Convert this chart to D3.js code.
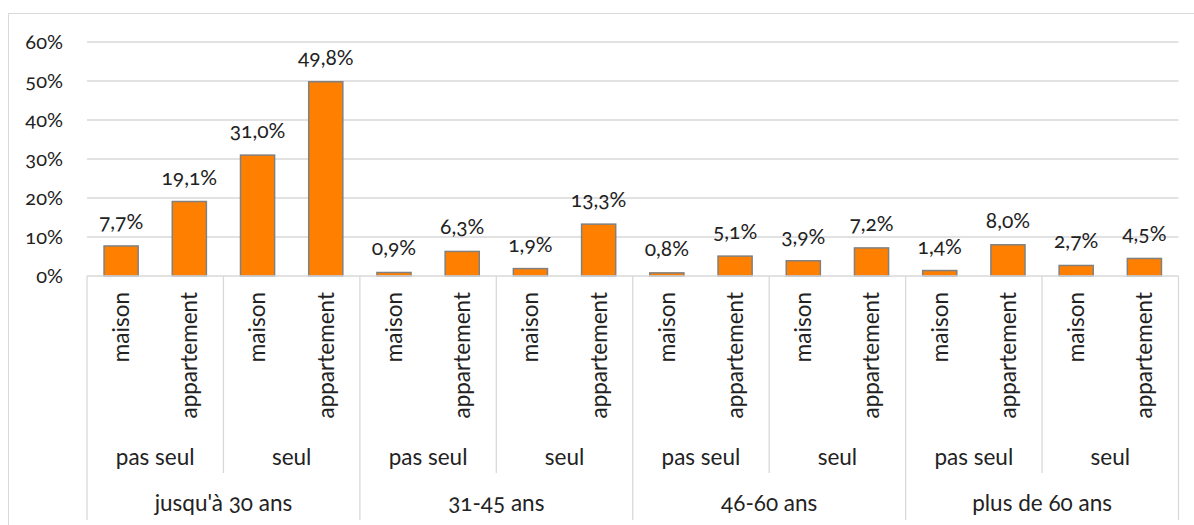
<!DOCTYPE html>
<style>
body { margin: 0; background: #fff; }
svg { font-family: "Lato", "Open Sans", sans-serif; font-variant-numeric: oldstyle-nums; }
</style>
<svg width="1194" height="525"></svg>
<script src="https://cdn.jsdelivr.net/npm/d3@7"></script>
<script>

var ageGroups = ["jusqu'à 30 ans", "31-45 ans", "46-60 ans", "plus de 60 ans"];
var livingStatus = ["pas seul", "seul"];
var housingTypes = ["maison", "appartement"];
// one value per bar, in order age > status > housing
var values = [7.7, 19.1, 31.0, 49.8,
              0.9, 6.3, 1.9, 13.3,
              0.8, 5.1, 3.9, 7.2,
              1.4, 8.0, 2.7, 4.5];
var yTicks = [0, 10, 20, 30, 40, 50, 60];

var svg = d3.select("svg");

var rows = [];
ageGroups.forEach(function(a) {
  livingStatus.forEach(function(s) {
    housingTypes.forEach(function(h) {
      var idx = rows.length;
      rows.push({ idx: idx, age: a, status: s, housing: h, value: values[idx] });
    });
  });
});

var plotLeft = 87, plotRight = 1178.5, plotTop = 42, plotBottom = 276;
var numSize = 21, wordSize = 22.5, textColor = "#222";

var x = d3.scaleBand()
    .domain(rows.map(function(d) { return d.idx; }))
    .range([plotLeft, plotRight])
    .paddingInner(0.5)
    .paddingOuter(0.25);

var y = d3.scaleLinear().domain([0, 60]).range([plotBottom, plotTop]);

var fmt = function(v) { return v.toFixed(1).replace(".", ",") + "%"; };
var step = x.step();

// chart frame
svg.append("rect")
    .attr("x", 8.5).attr("y", 13.5)
    .attr("width", 1200).attr("height", 530)
    .attr("fill", "none")
    .attr("stroke", "#d9d9d9");

// gridlines
svg.append("g")
  .selectAll("line")
  .data(yTicks.slice(1))
  .join("line")
    .attr("x1", plotLeft).attr("x2", plotRight)
    .attr("y1", function(d) { return y(d); })
    .attr("y2", function(d) { return y(d); })
    .attr("stroke", "#d9d9d9")
    .attr("stroke-width", 1.3);

// y tick labels
svg.append("g")
  .selectAll("text")
  .data(yTicks)
  .join("text")
    .attr("x", 63)
    .attr("y", function(d) { return y(d); })
    .attr("dy", "0.35em")
    .attr("text-anchor", "end")
    .attr("font-size", 20)
    .attr("fill", textColor)
    .text(function(d) { return d + "%"; });

// bars
svg.append("g")
  .selectAll("rect")
  .data(rows)
  .join("rect")
    .attr("x", function(d) { return x(d.idx); })
    .attr("y", function(d) { return y(d.value); })
    .attr("width", x.bandwidth())
    .attr("height", function(d) { return y(0) - y(d.value); })
    .attr("fill", "#ff8000")
    .attr("stroke", "#808080")
    .attr("stroke-width", 1.5);

// data labels
svg.append("g")
  .selectAll("text")
  .data(rows)
  .join("text")
    .attr("x", function(d) { return x(d.idx) + x.bandwidth() / 2; })
    .attr("y", function(d) { return y(d.value) - 17; })
    .attr("text-anchor", "middle")
    .attr("font-size", numSize)
    .attr("fill", textColor)
    .text(function(d) { return fmt(d.value); });

// category axis lines
var axis = svg.append("g").attr("stroke", "#d9d9d9").attr("stroke-width", 1.3);
axis.append("line")
    .attr("x1", plotLeft).attr("x2", plotRight)
    .attr("y1", plotBottom).attr("y2", plotBottom);

// dividers between status groups (inner) and age groups (outer)
for (var i = 0; i <= rows.length; i += 2) {
  var xx = plotLeft + i * step;
  var outer = i % 4 === 0;
  axis.append("line")
      .attr("x1", xx).attr("x2", xx)
      .attr("y1", plotBottom).attr("y2", outer ? 520 : 473);
}

// housing labels (rotated)
svg.append("g")
  .selectAll("text")
  .data(rows)
  .join("text")
    .attr("transform", function(d) {
      return "translate(" + (x(d.idx) + x.bandwidth() / 2) + ",292) rotate(-90)";
    })
    .attr("dy", "0.35em")
    .attr("text-anchor", "end")
    .attr("font-size", wordSize)
    .attr("fill", textColor)
    .text(function(d) { return d.housing; });

// status labels
var statusRows = rows.filter(function(d) { return d.idx % 2 === 0; });
svg.append("g")
  .selectAll("text")
  .data(statusRows)
  .join("text")
    .attr("x", function(d) { return x(d.idx) - step / 4 + step; })
    .attr("y", 465)
    .attr("text-anchor", "middle")
    .attr("font-size", wordSize)
    .attr("fill", textColor)
    .text(function(d) { return d.status; });

// age group labels
var ageRows = rows.filter(function(d) { return d.idx % 4 === 0; });
svg.append("g")
  .selectAll("text")
  .data(ageRows)
  .join("text")
    .attr("x", function(d) { return x(d.idx) - step / 4 + 2 * step; })
    .attr("y", 511)
    .attr("text-anchor", "middle")
    .attr("font-size", wordSize)
    .attr("fill", textColor)
    .text(function(d) { return d.age; });

</script>
